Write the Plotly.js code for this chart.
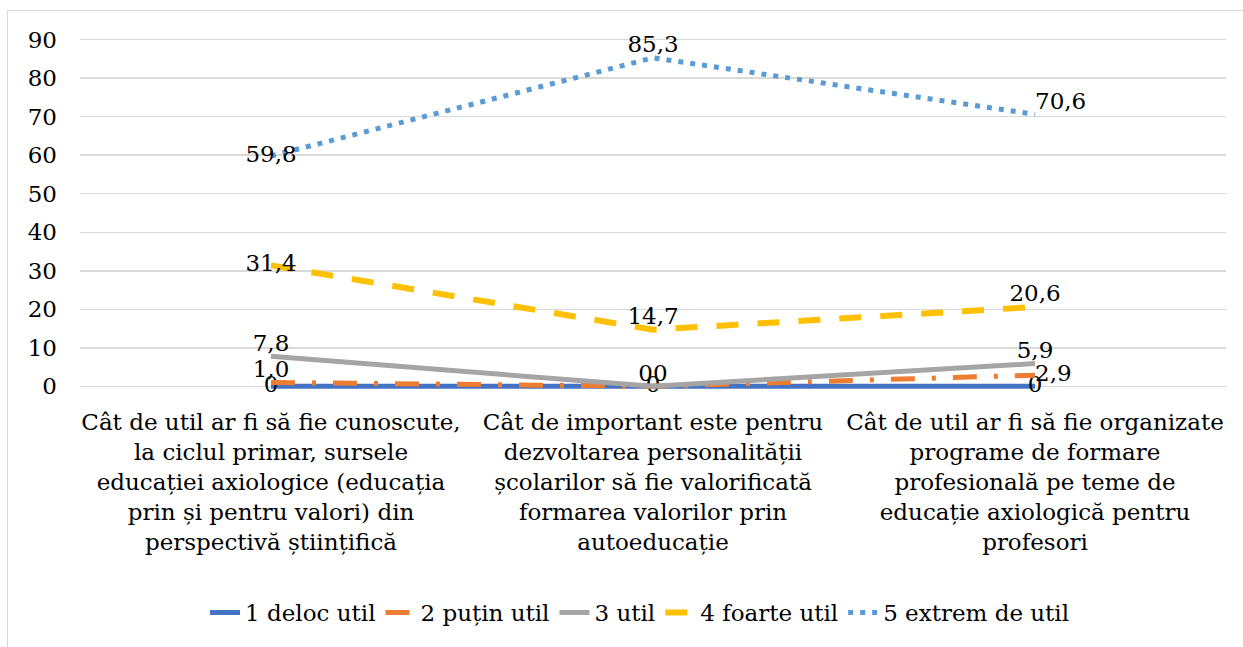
<!DOCTYPE html>
<html>
<head>
<meta charset="utf-8">
<script src="https://cdn.plot.ly/plotly-3.0.1.min.js"></script>
<style>
html,body{margin:0;padding:0;background:#fff;overflow:hidden;}
#frame{position:absolute;left:7px;top:10px;width:1300px;height:700px;border:1px solid #D9D9D9;box-sizing:border-box;}
#chart{position:absolute;left:0;top:0;width:1243px;height:647px;}
</style>
</head>
<body>
<div id="frame"></div>
<div id="chart"></div>
<script>
const categories = [
  "Cât de util ar fi să fie cunoscute,<br>la ciclul primar, sursele<br>educației axiologice (educația<br>prin și pentru valori) din<br>perspectivă științifică",
  "Cât de important este pentru<br>dezvoltarea personalității<br>școlarilor să fie valorificată<br>formarea valorilor prin<br>autoeducație",
  "Cât de util ar fi să fie organizate<br>programe de formare<br>profesională pe teme de<br>educație axiologică pentru<br>profesori"
];
const seriesNames = ["1 deloc util", "2 puțin util", "3 util", "4 foarte util", "5 extrem de util"];
const delocUtil = [0, 0, 0];
const putinUtil = [1.0, 0, 2.9];
const util = [7.8, 0, 5.9];
const foarteUtil = [31.4, 14.7, 20.6];
const extremUtil = [59.8, 85.3, 70.6];
const yTicks = [0, 10, 20, 30, 40, 50, 60, 70, 80, 90];

const fmt = v => v === 0 ? "0" : v.toFixed(1).replace(".", ",");
const FONT = "DejaVu Serif";
const FS = 23;

const styles = [
  {color: "#4472C4", width: 5, dash: "solid", pos: ["middle center", "middle center", "middle center"]},
  {color: "#ED7D31", width: 5, dash: "24px,17px,4px,17px", pos: ["top center", "top left", "middle right"]},
  {color: "#A5A5A5", width: 5, dash: "solid", pos: ["top center", "top right", "top center"]},
  {color: "#FFC000", width: 6, dash: "22px,19px", pos: ["middle center", "top center", "top center"]},
  {color: "#5B9BD5", width: 5, dash: "5px,7px", pos: ["middle center", "top center", "top right"]}
];
const values = [delocUtil, putinUtil, util, foarteUtil, extremUtil];

const traces = values.map((vals, i) => ({
  type: "scatter",
  mode: "lines+text",
  name: seriesNames[i],
  x: categories,
  y: vals,
  text: vals.map(fmt),
  textposition: styles[i].pos,
  textfont: {family: FONT, size: FS, color: "#000"},
  cliponaxis: false,
  line: {color: styles[i].color, width: styles[i].width, dash: styles[i].dash},
  hoverinfo: "none"
}));

const layout = {
  width: 1243, height: 647,
  paper_bgcolor: "rgba(0,0,0,0)",
  plot_bgcolor: "rgba(0,0,0,0)",
  margin: {l: 80, r: 17, t: 37, b: 258},
  font: {family: FONT, size: FS, color: "#000"},
  showlegend: true,
  legend: {
    orientation: "h", x: 0.4887, xanchor: "center",
    y: -0.635, yanchor: "middle", font: {family: FONT, size: FS, color: "#000"},
    traceorder: "normal"
  },
  xaxis: {
    type: "category", range: [-0.5, 2.5], showgrid: false, zeroline: false,
    showline: false, ticks: "", tickangle: 0, ticklabelstandoff: 17,
    tickfont: {family: FONT, size: FS, color: "#000"},
    automargin: false
  },
  yaxis: {
    range: [-0.7, 90.7], tickvals: yTicks, ticktext: yTicks.map(String),
    showgrid: true, gridcolor: "#D9D9D9", gridwidth: 1.5, zeroline: false,
    showline: false, ticks: "", ticklabelstandoff: 22,
    tickfont: {family: FONT, size: FS, color: "#000"}, automargin: false
  }
};

Plotly.newPlot("chart", traces, layout, {staticPlot: true, displayModeBar: false});
</script>
</body>
</html>
